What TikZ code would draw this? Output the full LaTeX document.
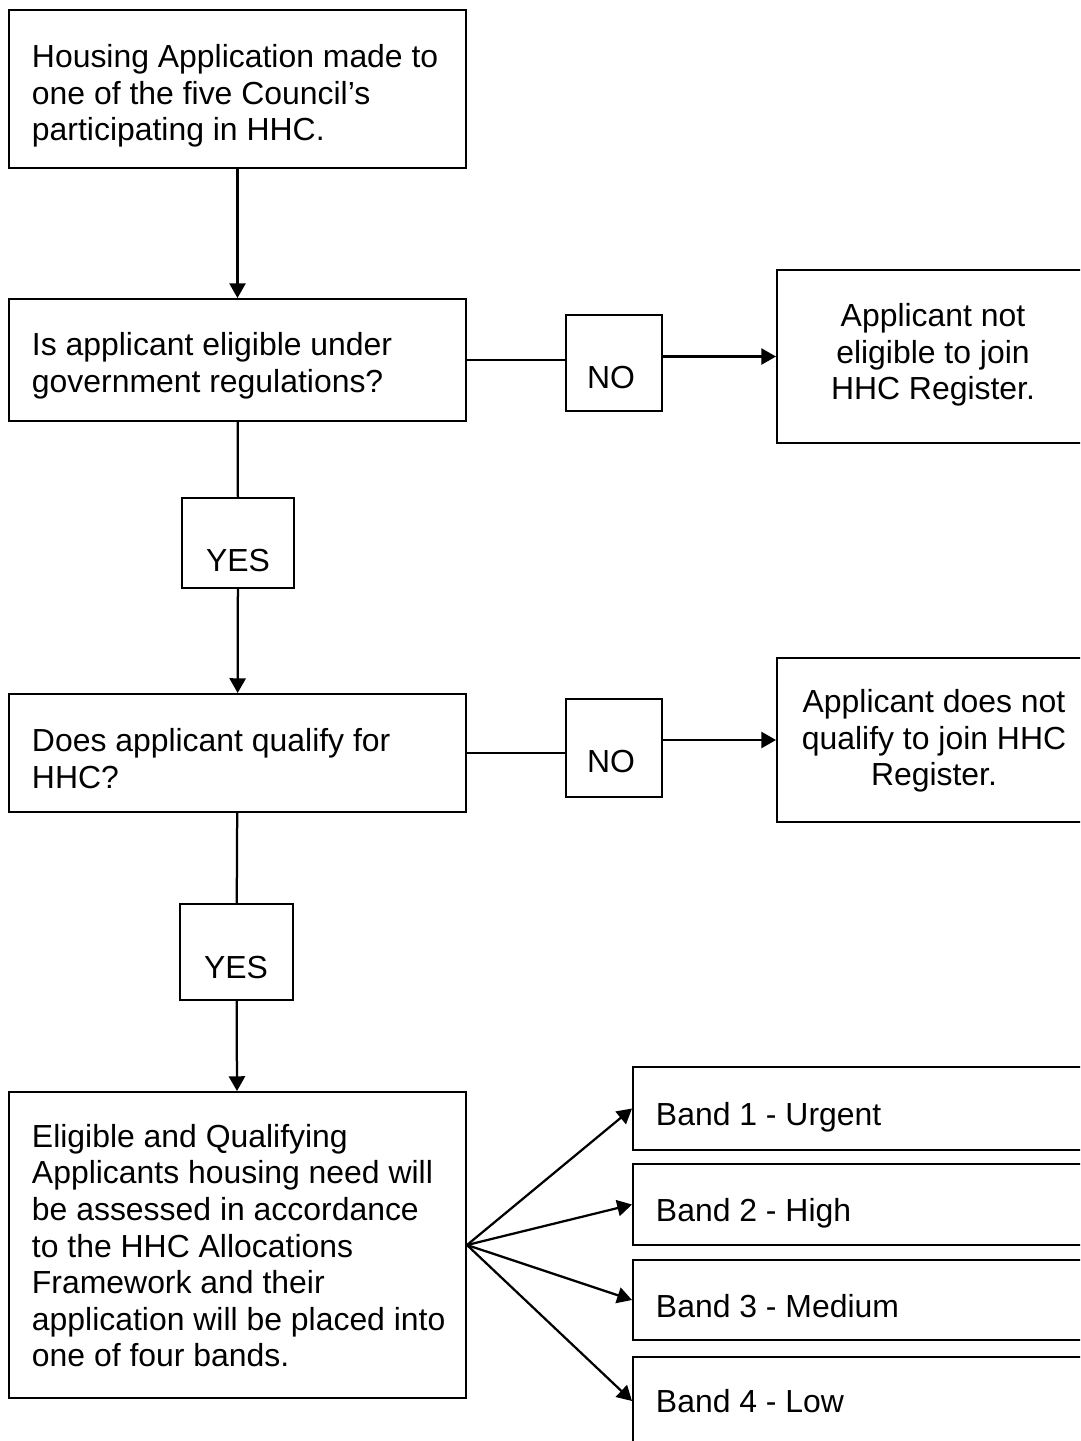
\documentclass[tikz,border=0pt]{standalone}
\usepackage{fontspec}
\setmainfont{Liberation Sans}
\usetikzlibrary{arrows.meta,fit}

\begin{document}
\begin{tikzpicture}[x=0.025cm,y=-0.025cm,line width=1.4pt,
  box/.style={draw=black,inner sep=0pt},
  txt/.style={font={\fontsize{22.7}{26}\selectfont},align=left,inner sep=0pt,
    execute at begin node=\strut,execute at end node=\strut},
  arr/.style={-{Triangle[length=10.5pt,width=11.5pt]}},
  every edge/.style={draw,line width=1.6pt}]
  \useasboundingbox (0,0) rectangle (1080,1441);
  \clip (0,0) rectangle (1080,1441);

  \node[box,fit={(9,10) (466,168)}] (apply) {};
  \node[txt,anchor=west] (applyTxt) at (31,98) {Housing Application made to\\one of the five Council’s\\participating in HHC.};
  \node[box,fit={(9,299) (466,421)}] (elig) {};
  \node[txt,anchor=west] (eligTxt) at (31,368) {Is applicant eligible under\\government regulations?};
  \node[box,fit={(566,315) (662,411)}] (no1) {};
  \node[txt] (no1Txt) at (611,381) {NO};
  \node[box,fit={(777,270) (1110,443)}] (notElig) {};
  \node[txt,align=center] (notEligTxt) at (933,357) {Applicant not\\eligible to join\\HHC Register.};
  \node[box,fit={(182,498) (294,588)}] (yes1) {};
  \node[txt] (yes1Txt) at (238,564) {YES};
  \node[box,fit={(9,694) (466,812)}] (qual) {};
  \node[txt,anchor=west] (qualTxt) at (31,764) {Does applicant qualify for\\HHC?};
  \node[box,fit={(566,699) (662,797)}] (no2) {};
  \node[txt] (no2Txt) at (611,765) {NO};
  \node[box,fit={(777,658) (1110,822)}] (notQual) {};
  \node[txt,align=center] (notQualTxt) at (934,743) {Applicant does not\\qualify to join HHC\\Register.};
  \node[box,fit={(180,904) (293,1000)}] (yes2) {};
  \node[txt] (yes2Txt) at (236,971) {YES};
  \node[box,fit={(9,1092) (466,1398)}] (assess) {};
  \node[txt,anchor=west] (assessTxt) at (31,1251) {Eligible and Qualifying\\Applicants housing need will\\be assessed in accordance\\to the HHC Allocations\\Framework and their\\application will be placed into\\one of four bands.};
  \node[box,fit={(633,1067) (1110,1150)}] (band1) {};
  \node[txt,anchor=west] (band1Txt) at (655,1118) {Band 1 - Urgent};
  \node[box,fit={(633,1164) (1110,1245)}] (band2) {};
  \node[txt,anchor=west] (band2Txt) at (655,1214) {Band 2 - High};
  \node[box,fit={(633,1260) (1110,1340)}] (band3) {};
  \node[txt,anchor=west] (band3Txt) at (655,1310) {Band 3 - Medium};
  \node[box,fit={(633,1357) (1110,1445)}] (band4) {};
  \node[txt,anchor=west] (band4Txt) at (655,1405) {Band 4 - Low};

  \path (apply) edge[arr] (elig);
  \path (elig) edge (yes1);
  \path (yes1) edge[arr] (qual);
  \path (qual) edge (yes2);
  \path (yes2) edge[arr] (assess);
  \path (elig.east) edge (elig.east -| no1.west);
  \path (no1.east |- notElig.west) edge[arr] (notElig.west);
  \path (qual.east) edge (qual.east -| no2.west);
  \path (no2.east |- notQual.west) edge[arr] (notQual.west);
  \path (assess.east) edge[arr] (band1.west);
  \path (assess.east) edge[arr] (band2.west);
  \path (assess.east) edge[arr] (band3.west);
  \path (assess.east) edge[arr] (band4.west);

\end{tikzpicture}
\end{document}
